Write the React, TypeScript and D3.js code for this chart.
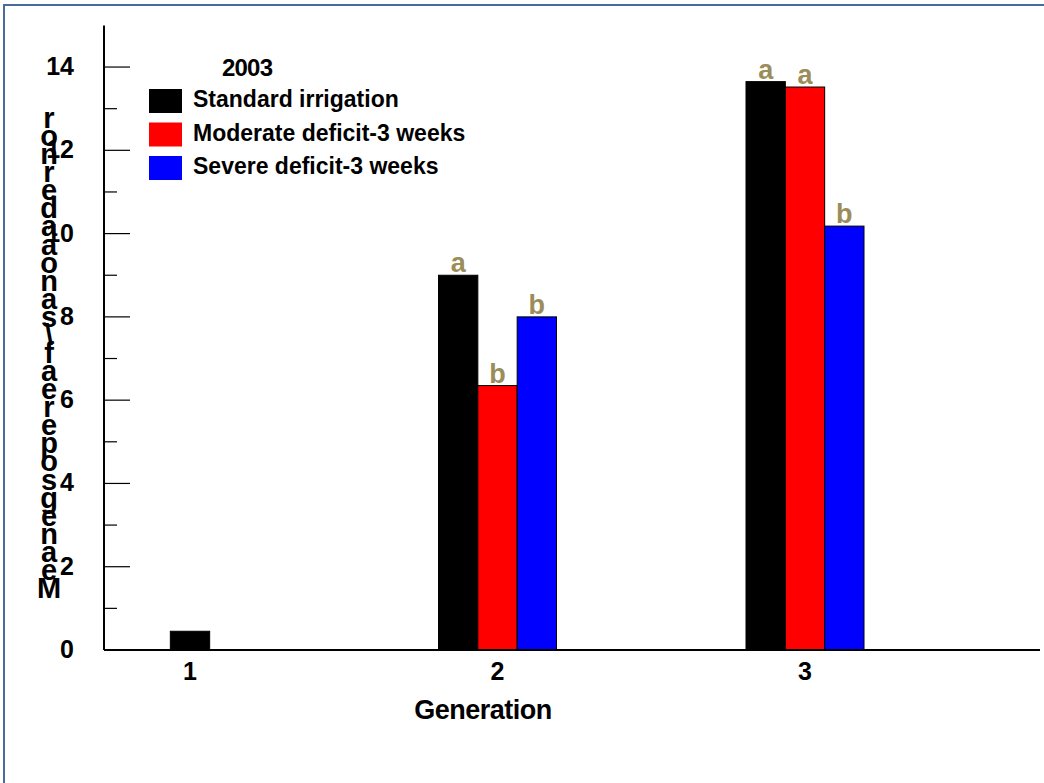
import React, { useEffect, useRef } from 'react';
import * as d3 from 'd3';

// generations on the x axis
const generations = ['1', '2', '3'];
const seriesNames = ['Standard irrigation', 'Moderate deficit-3 weeks', 'Severe deficit-3 weeks'];
const seriesColors = ['#000000', '#ff0000', '#0000ff'];

// mean values per generation (null = no bar)
const standardVals = [0.45, 9.0, 13.65];
const moderateVals = [null, 6.35, 13.52];
const severeVals = [null, 8.0, 10.18];

// significance letters
const standardLetters = ['', 'a', 'a'];
const moderateLetters = ['', 'b', 'a'];
const severeLetters = ['', 'b', 'b'];

const yTicks = [0, 2, 4, 6, 8, 10, 12, 14];
const yMinorTicks = [1, 3, 5, 7, 9, 11, 13];

// y axis title as it is drawn: glyphs stacked in one column
const yLabelGlyphs = ['r', 'o', 'n', 'r', 'e', 'd', 'a', 'a', 'o', 'n', 'a', 's', '\\', 'f', 'a', 'e', 'r', 'e', 'p', 'o', 's', 'g', 'e', 'n', 'a', 'e', 'M'];

const legendTitle = '2003';
const xTitle = 'Generation';

const FONT = '"Liberation Sans", Arial, sans-serif';

const App = () => {
  const ref = useRef<SVGSVGElement>(null);

  useEffect(() => {
    const svg = d3.select(ref.current);
    svg.selectAll('*').remove();

    const width = 1044, height = 783;
    const x0 = 104, xEnd = 1040;
    const yBase = 650;

    // frame
    svg.append('path')
      .attr('d', `M4,${height} L4,5 L${width},5`)
      .attr('fill', 'none')
      .attr('stroke', '#4a6a9a')
      .attr('stroke-width', 2);

    const y = d3.scaleLinear().domain([0, 15]).range([yBase, yBase - 15 * 41.64]);
    const x = d3.scalePoint().domain(generations).range([190, 805]);
    const xSub = d3.scaleBand().domain(seriesNames).range([-59, 59]).padding(0);

    const series = [
      { name: seriesNames[0], vals: standardVals, letters: standardLetters, color: seriesColors[0] },
      { name: seriesNames[1], vals: moderateVals, letters: moderateLetters, color: seriesColors[1] },
      { name: seriesNames[2], vals: severeVals, letters: severeLetters, color: seriesColors[2] }
    ];

    const g = svg.append('g');

    // bars
    series.forEach(s => {
      generations.forEach((gen, i) => {
        const v = s.vals[i];
        if (v == null) return;
        // single bar groups sit on the category centre
        const single = series.filter(o => o.vals[i] != null).length === 1;
        const bx = single ? x(gen)! - xSub.bandwidth() / 2 : x(gen)! + xSub(s.name)!;
        g.append('rect')
          .attr('x', bx)
          .attr('y', y(v))
          .attr('width', xSub.bandwidth())
          .attr('height', yBase - y(v))
          .attr('fill', s.color)
          .attr('stroke', '#000')
          .attr('stroke-width', 1);
        if (s.letters[i]) {
          g.append('text')
            .attr('x', bx + xSub.bandwidth() / 2)
            .attr('y', y(v) - 3)
            .attr('text-anchor', 'middle')
            .attr('font-family', FONT)
            .attr('font-weight', 'bold')
            .attr('font-size', 27)
            .attr('fill', '#9b8d5a')
            .text(s.letters[i]);
        }
      });
    });

    // axes
    g.append('line')
      .attr('x1', x0).attr('x2', x0)
      .attr('y1', y(15)).attr('y2', yBase)
      .attr('stroke', '#000').attr('stroke-width', 2);
    g.append('line')
      .attr('x1', x0).attr('x2', xEnd)
      .attr('y1', yBase).attr('y2', yBase)
      .attr('stroke', '#000').attr('stroke-width', 2);

    g.selectAll('line.major')
      .data(yTicks.filter(t => t > 0))
      .enter().append('line')
      .attr('class', 'major')
      .attr('x1', x0).attr('x2', x0 + 26)
      .attr('y1', d => y(d)).attr('y2', d => y(d))
      .attr('stroke', '#000').attr('stroke-width', 1.2);
    g.selectAll('line.minor')
      .data(yMinorTicks)
      .enter().append('line')
      .attr('class', 'minor')
      .attr('x1', x0).attr('x2', x0 + 13)
      .attr('y1', d => y(d)).attr('y2', d => y(d))
      .attr('stroke', '#000').attr('stroke-width', 1.2);

    g.selectAll('text.ytick')
      .data(yTicks)
      .enter().append('text')
      .attr('class', 'ytick')
      .attr('x', 74)
      .attr('y', d => y(d) + 8)
      .attr('text-anchor', 'end')
      .attr('font-family', FONT)
      .attr('font-weight', 'bold')
      .attr('font-size', 25)
      .text(d => d);

    g.selectAll('text.xtick')
      .data(generations)
      .enter().append('text')
      .attr('class', 'xtick')
      .attr('x', d => x(d)!)
      .attr('y', 680)
      .attr('text-anchor', 'middle')
      .attr('font-family', FONT)
      .attr('font-weight', 'bold')
      .attr('font-size', 25)
      .text(d => d);

    g.append('text')
      .attr('x', 483)
      .attr('y', 719)
      .attr('text-anchor', 'middle')
      .attr('font-family', FONT)
      .attr('font-weight', 'bold')
      .attr('font-size', 27)
      .attr('letter-spacing', -0.5)
      .text(xTitle);

    // stacked y title, one text element with a tspan per glyph
    const yl = d3.scalePoint().domain(yLabelGlyphs.map((_, i) => String(i))).range([128, 598]);
    g.append('text')
      .attr('font-family', FONT)
      .attr('font-weight', 'bold')
      .attr('font-size', 29)
      .attr('text-anchor', 'middle')
      .selectAll('tspan')
      .data(yLabelGlyphs)
      .enter().append('tspan')
      .attr('x', 49)
      .attr('y', (_, i) => yl(String(i))!)
      .text(d => d);

    // legend
    const lg = g.append('g');
    lg.append('text')
      .attr('x', 222)
      .attr('y', 76)
      .attr('font-family', FONT)
      .attr('font-weight', 'bold')
      .attr('font-size', 24)
      .attr('letter-spacing', -0.8)
      .text(legendTitle);
    series.forEach((s, i) => {
      const ly = 89 + i * 33.5;
      lg.append('rect')
        .attr('x', 149).attr('y', ly)
        .attr('width', 33).attr('height', 24)
        .attr('fill', s.color);
      lg.append('text')
        .attr('x', 193)
        .attr('y', ly + 18)
        .attr('font-family', FONT)
        .attr('font-weight', 'bold')
        .attr('font-size', 23)
        .text(s.name);
    });
  }, []);

  return (
    <svg ref={ref} width={1044} height={783}
      style={{ position: 'absolute', left: 0, top: 0, background: '#fff' }} />
  );
};

export default App;
